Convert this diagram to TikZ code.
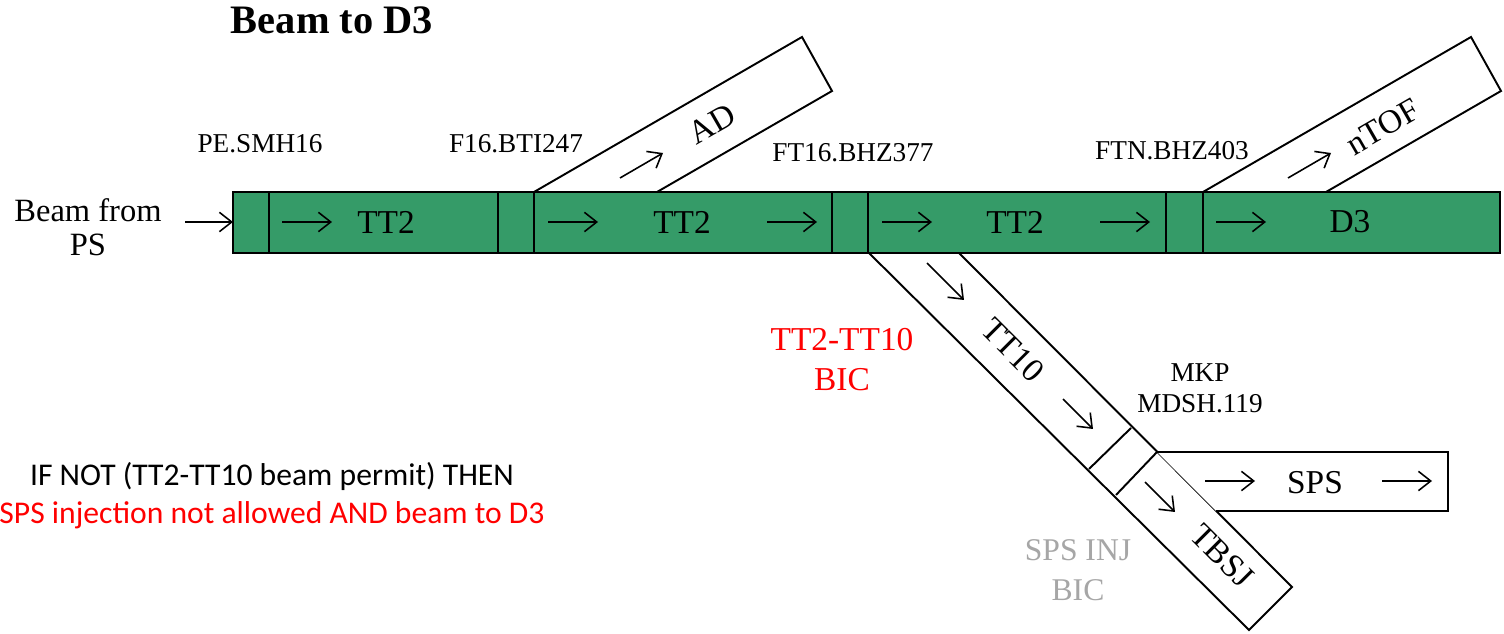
\documentclass[tikz,border=0pt]{standalone}
\usepackage{fontspec}
\setmainfont{Liberation Serif}
\newfontfamily\calibrifont{Carlito}
\usetikzlibrary{arrows.meta, positioning, calc}
\definecolor{bmGreen}{HTML}{359B68}
\definecolor{bmRed}{HTML}{FF0000}
\definecolor{bmGray}{HTML}{A6A6A6}
\tikzset{
  bmline/.style={line width=1.1pt, line join=miter},
  bmflow/.style={-{Straight Barb[length=7pt, width=11pt]}, line width=0.9pt},
  bmlabel/.style={font=\fontsize{15.5}{17.6}\selectfont, align=center, inner sep=0pt},
  bmseg/.style={font=\fontsize{19}{22.8}\selectfont, align=center, inner sep=0pt},
}

\begin{document}
\begin{tikzpicture}[x=0.02cm, y=-0.02cm]
  \useasboundingbox (0,0) rectangle (1504,634);
  % branches
  \draw[bmline, fill=white] (534,192) -- (802,37) -- (832,91) -- (657,192);
  \draw[bmline, fill=white] (1203,192) -- (1471,37) -- (1501,91) -- (1326,192);
  \draw[bmline, fill=white] (869,253) -- (1249,630) -- (1292,587) -- (959,253);
  \draw[bmline, fill=white] (1157,452) -- (1448,452) -- (1448,511) -- (1216,511);
  \draw[bmline] (1089,469) -- (1131,428); \draw[bmline] (1116,495) -- (1157,452);
  % main line
  \draw[bmline, fill=bmGreen] (233,192) rectangle (1500,253);
  \draw[bmline] (269,192) -- (269,253); \draw[bmline] (498,192) -- (498,253);
  \draw[bmline] (534,192) -- (534,253); \draw[bmline] (832,192) -- (832,253);
  \draw[bmline] (868,192) -- (868,253); \draw[bmline] (1166,192) -- (1166,253);
  \draw[bmline] (1203,192) -- (1203,253);
  \coordinate (barin) at (233,222);
  \coordinate (psout) at (185,222);

  \node[font=\fontsize{23}{27}\selectfont\bfseries] (title) at (332,20) {Beam to D3};
  \node[font=\fontsize{18.5}{19.5}\selectfont, align=center] (psbeam) at (88,227) {Beam from\\PS};
  \draw[bmflow] (psout) -- (barin);

  \node[bmlabel] (smh) at (260,144) {PE.SMH16};
  \node[bmlabel] (bti) at (516,144) {F16.BTI247};
  \node[bmlabel] (bhz377) at (853,153) {FT16.BHZ377};
  \node[bmlabel] (bhz403) at (1172,151) {FTN.BHZ403};
  \node[bmlabel] (mkp) at (1200,388) {MKP\\MDSH.119};

  \node[bmseg] (tt2a) at (386,222) {TT2};
  \node[bmseg] (tt2b) at (682,222) {TT2};
  \node[bmseg] (tt2c) at (1015,222) {TT2};
  \node[bmseg] (d3) at (1350,222) {D3};
  \node[bmseg, rotate=30] (ad) at (712,124) {AD};
  \node[bmseg, rotate=30] (ntof) at (1383,127) {nTOF};
  \node[bmseg, rotate=-45] (tt10) at (1013,350) {TT10};
  \node[bmseg, rotate=-45] (tbsj) at (1222,556) {TBSJ};
  \node[bmseg] (sps) at (1315,483) {SPS};
  \draw[bmflow] (282,222) -- (332,222); \draw[bmflow] (548,222) -- (598,222);
  \draw[bmflow] (767,222) -- (817,222); \draw[bmflow] (882,222) -- (932,222);
  \draw[bmflow] (1100,222) -- (1150,222); \draw[bmflow] (1216,222) -- (1266,222);
  \draw[bmflow] (620,178) -- (663,153); \draw[bmflow] (1288,178) -- (1331,153);
  \draw[bmflow] (927,263) -- (964,300); \draw[bmflow] (1063,399) -- (1093,429);
  \draw[bmflow] (1145,482) -- (1175,512);
  \draw[bmflow] (1205,481) -- (1255,481); \draw[bmflow] (1382,481) -- (1432,481);

  \node[bmseg, text=bmRed] (tt10bic) at (842,360) {TT2-TT10\\BIC};
  \node[font=\fontsize{18}{22.8}\selectfont, text=bmGray, align=center, inner sep=0pt] (injbic) at (1078,570) {SPS INJ\\BIC};
  \node[font=\calibrifont\fontsize{18}{21.6}\selectfont, align=center, inner sep=0pt] (rule) at (272,496)
    {IF NOT (TT2-TT10 beam permit) THEN\\\textcolor{bmRed}{SPS injection not allowed AND beam to D3}};
\end{tikzpicture}
\end{document}
